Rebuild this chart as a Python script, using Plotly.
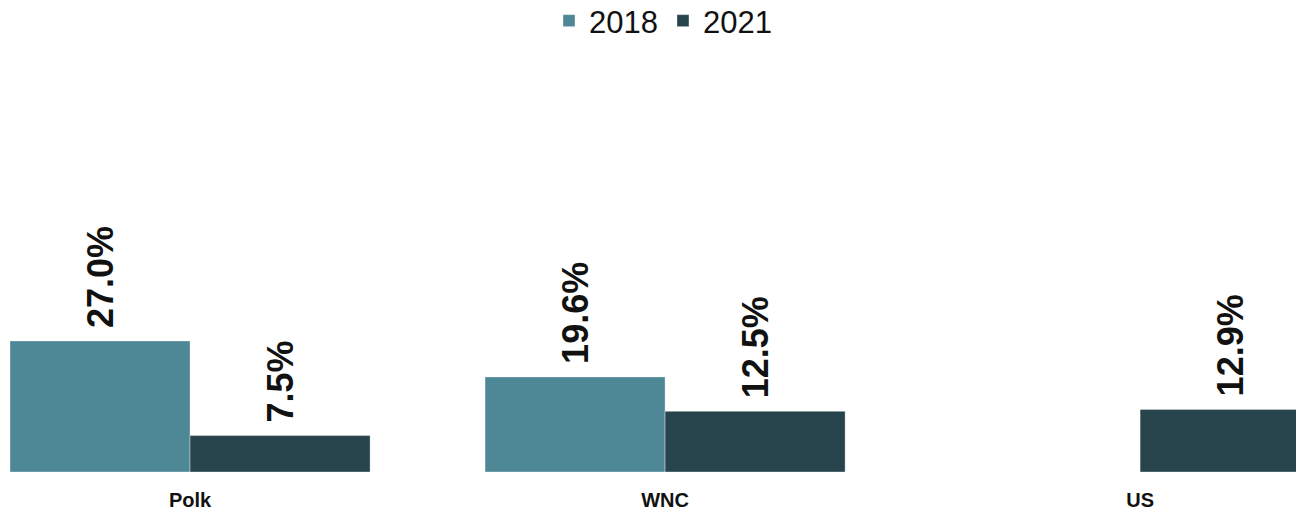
import plotly.graph_objects as go

categories = ["Polk", "WNC", "US"]
years = ["2018", "2021"]
values_2018 = [27.0, 19.6, None]
values_2021 = [7.5, 12.5, 12.9]
colors = {"2018": "#4E8796", "2021": "#27444C"}

fig = go.Figure()
for name, vals in zip(years, [values_2018, values_2021]):
    fig.add_trace(go.Bar(
        x=categories, y=vals, name=name,
        marker=dict(color=colors[name], line=dict(color="rgba(255,255,255,0.35)", width=1)),
        texttemplate=" %{y:.1f}%", textposition="outside", textangle=-90,
        textfont=dict(family="Liberation Sans Narrow, Arial Narrow, Liberation Sans, Arial", size=36, color="#111111", weight="bold"),
        cliponaxis=False,
    ))

fig.update_layout(
    width=1296, height=507,
    margin=dict(l=2, r=0, t=52, b=43, autoexpand=False),
    paper_bgcolor="white", plot_bgcolor="white",
    barmode="group", bargap=0.242, bargroupgap=0,
    showlegend=True,
    legend=dict(orientation="h", x=0.5 + 6 / 1294, xanchor="center", xref="paper",
                y=1 - 13 / 507, yanchor="middle", yref="container",
                font=dict(family="Liberation Sans, Arial", size=31, color="#111111"),
                itemwidth=30),
    xaxis=dict(range=[-0.379, 2.345], showgrid=False, showline=False, zeroline=False,
               ticks="", ticklabelstandoff=14,
               tickfont=dict(family="Liberation Sans Narrow, Arial Narrow, Liberation Sans, Arial", size=20, color="#111111", weight="bold")),
    yaxis=dict(range=[0, 84.9], visible=False, showgrid=False, zeroline=False),
)

fig.write_html("out.html")
